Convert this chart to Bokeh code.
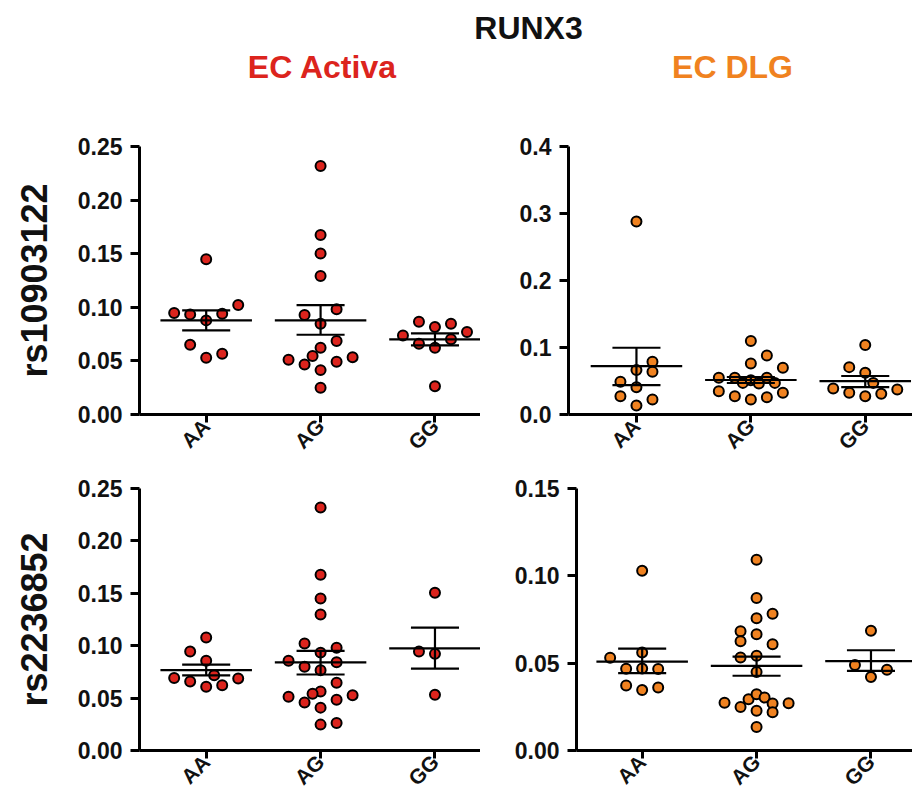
import math
from bokeh.plotting import figure
from bokeh.layouts import column, row
from bokeh.models import FixedTicker, Label, Range1d, NumeralTickFormatter, ColumnDataSource
from bokeh.embed import file_html
from bokeh.resources import INLINE

# ---------------- data ----------------
genotypes = ["AA", "AG", "GG"]
main_title = "RUNX3"
col_titles = ["EC Activa", "EC DLG"]
row_titles = ["rs10903122", "rs2236852"]

# Panel A: EC Activa, rs10903122
actA_AA = [0.1448, 0.0946, 0.0934, 0.0940, 0.1021, 0.0878, 0.0651, 0.0529, 0.0567]
actA_AA_col = [0, -2, -1, 1, 2, 0, -1, 0, 1]
actA_AG = [0.2319, 0.1675, 0.1501, 0.1292, 0.0981, 0.0928, 0.0847, 0.0685, 0.0623,
           0.0511, 0.0545, 0.0467, 0.0492, 0.0535, 0.0414, 0.0249]
actA_AG_col = [0, 0, 0, 0, 1, -1, 0, 1, 0, -2, -0.5, -1, 1, 2, 0, 0]
actA_GG = [0.0738, 0.0865, 0.0660, 0.0816, 0.0622, 0.0846, 0.0701, 0.0769, 0.0264]
actA_GG_col = [-2, -1, -1, 0, 0, 1, 1, 2, 0]
actA_mean = [0.0878, 0.0878, 0.0700]
actA_hi = [0.0971, 0.1021, 0.0757]
actA_lo = [0.0785, 0.0744, 0.0645]

# Panel B: EC DLG, rs10903122
dlgA_AA = [0.2879, 0.0787, 0.0663, 0.0638, 0.0488, 0.0408, 0.0274, 0.0224, 0.0134]
dlgA_AA_col = [0, 1, 0, 1, -1, 0, -1, 1, 0]
dlgA_AG = [0.1096, 0.0882, 0.0762, 0.0697, 0.0547, 0.0547, 0.0472, 0.0510, 0.0463,
           0.0547, 0.0472, 0.0348, 0.0274, 0.0224, 0.0259, 0.0323]
dlgA_AG_col = [0, 1, 0, 2, -2, -1, -0.5, 0, 0.5, 1, 1.5, -2, -1, 0, 1, 2]
dlgA_GG = [0.1036, 0.0707, 0.0622, 0.0472, 0.0389, 0.0323, 0.0274, 0.0308, 0.0374]
dlgA_GG_col = [0, -1, 0, 0.5, -2, -1, 0, 1, 2]
dlgA_mean = [0.0722, 0.0515, 0.0498]
dlgA_hi = [0.0996, 0.0560, 0.0575]
dlgA_lo = [0.0438, 0.0470, 0.0410]

# Panel C: EC Activa, rs2236852
actB_AA = [0.1078, 0.0944, 0.0856, 0.0691, 0.0659, 0.0719, 0.0609, 0.0622, 0.0688]
actB_AA_col = [0, -1, 0, -2, -1, 0.5, 0, 1, 2]
actB_AG = [0.2319, 0.1678, 0.1450, 0.1297, 0.1022, 0.0981, 0.0934, 0.0856, 0.0841,
           0.0800, 0.0766, 0.0647, 0.0563, 0.0541, 0.0513, 0.0528, 0.0459, 0.0484,
           0.0409, 0.0247, 0.0263]
actB_AG_col = [0, 0, 0, 0, -1, 1, 0, -2, 1, -1, 0, 1, 0, -0.5, -2, 2, -1, 1, 0, 0, 1]
actB_GG = [0.1506, 0.0944, 0.0922, 0.0531]
actB_GG_col = [0, -1, 0, 0]
actB_mean = [0.0766, 0.0841, 0.0975]
actB_hi = [0.0819, 0.0950, 0.1172]
actB_lo = [0.0716, 0.0725, 0.0781]

# Panel D: EC DLG, rs2236852
dlgB_AA = [0.1029, 0.0531, 0.0561, 0.0468, 0.0469, 0.0466, 0.0372, 0.0346, 0.0361]
dlgB_AA_col = [0, -2, 0, -1, 0, 1, -1, 0, 1]
dlgB_AG = [0.1092, 0.0873, 0.0757, 0.0783, 0.0683, 0.0666, 0.0625, 0.0608, 0.0533,
           0.0542, 0.0449, 0.0273, 0.0249, 0.0294, 0.0322, 0.0303, 0.0269, 0.0271,
           0.0228, 0.0219, 0.0135]
dlgB_AG_col = [0, 0, 0, 1, -1, 0, -1, 1, -1, 0, 0, -2, -1, -0.5, 0, 0.5, 1, 2, 0, 1, 0]
dlgB_GG = [0.0686, 0.0490, 0.0462, 0.0421]
dlgB_GG_col = [0, -1, 1, 0]
dlgB_mean = [0.0509, 0.0484, 0.0512]
dlgB_hi = [0.0583, 0.0537, 0.0574]
dlgB_lo = [0.0443, 0.0428, 0.0456]

yticks_A = [0.0, 0.05, 0.10, 0.15, 0.20, 0.25]
yticks_B = [0.0, 0.1, 0.2, 0.3, 0.4]
yticks_D = [0.0, 0.05, 0.10, 0.15]

# ---------------- style ----------------
FONT = "Liberation Sans"
RED = "#dc241d"
ORANGE = "#f08220"
TXT = "#111111"
STEP = 0.14        # swarm column spacing (category units)
MEAN_HALF = 0.40
CAP_HALF = 0.21


def panel(groups, cols, mean, hi, lo, color, yticks, fmt, width, height,
          border_left, border_top, border_bottom, xr, ylabel=None):
    ymax = yticks[-1]
    p = figure(width=width, height=height, x_range=Range1d(*xr),
               y_range=Range1d(0, ymax), toolbar_location=None,
               output_backend="svg", min_border_left=border_left,
               min_border_right=0, min_border_top=border_top,
               min_border_bottom=border_bottom)
    p.outline_line_color = None
    p.xgrid.visible = False
    p.ygrid.visible = False
    p.background_fill_color = "white"
    p.border_fill_color = "white"

    xs, ys = [], []
    for i, (vals, cc) in enumerate(zip(groups, cols)):
        for v, c in zip(vals, cc):
            xs.append(i + c * STEP)
            ys.append(v)
    p.scatter(x=xs, y=ys, size=10, fill_color=color, line_color="black",
              line_width=2)

    cats = list(range(len(genotypes)))
    src = ColumnDataSource(dict(
        c=cats,
        m0=[c - MEAN_HALF for c in cats], m1=[c + MEAN_HALF for c in cats],
        c0=[c - CAP_HALF for c in cats], c1=[c + CAP_HALF for c in cats],
        mean=mean, hi=hi, lo=lo))
    for kw in [dict(x0="m0", x1="m1", y0="mean", y1="mean"),
               dict(x0="c0", x1="c1", y0="hi", y1="hi"),
               dict(x0="c0", x1="c1", y0="lo", y1="lo"),
               dict(x0="c", x1="c", y0="lo", y1="hi")]:
        p.segment(source=src, line_color="black", line_width=2.2, **kw)

    # y axis
    ya = p.yaxis[0]
    ya.ticker = FixedTicker(ticks=yticks)
    ya.formatter = NumeralTickFormatter(format=fmt)
    ya.axis_line_width = 3
    ya.axis_line_color = "black"
    ya.major_tick_line_width = 3
    ya.major_tick_out = 9
    ya.major_tick_in = 0
    ya.minor_tick_out = 0
    ya.minor_tick_in = 0
    ya.major_label_text_font = FONT
    ya.major_label_text_font_style = "bold"
    ya.major_label_text_font_size = "23px"
    ya.major_label_text_color = TXT
    ya.major_label_standoff = 8
    if ylabel:
        ya.axis_label = ylabel
        ya.axis_label_text_font = FONT
        ya.axis_label_text_font_style = "bold"
        ya.axis_label_text_font_size = "36px"
        ya.axis_label_text_color = TXT
        ya.axis_label_standoff = 20

    # x axis
    xa = p.xaxis[0]
    xa.ticker = FixedTicker(ticks=cats)
    xa.major_label_overrides = {i: g for i, g in enumerate(genotypes)}
    xa.major_label_orientation = math.pi / 4
    xa.axis_line_width = 3
    xa.axis_line_color = "black"
    xa.major_tick_line_width = 3
    xa.major_tick_out = 8
    xa.major_tick_in = 0
    xa.minor_tick_out = 0
    xa.minor_tick_in = 0
    xa.major_label_text_font = FONT
    xa.major_label_text_font_style = "bold"
    xa.major_label_text_font_size = "21px"
    xa.major_label_text_color = TXT
    xa.major_label_standoff = 0
    return p


# layout (page pixels)
LEFT_W, RIGHT_W = 480, 432
HEAD_H, ROW1_H, ROW2_H = 130, 335, 337

pA = panel([actA_AA, actA_AG, actA_GG], [actA_AA_col, actA_AG_col, actA_GG_col],
           actA_mean, actA_hi, actA_lo, RED, yticks_A, "0.00",
           LEFT_W, ROW1_H, 139, 16, 51, (-0.583, 2.398), ylabel=row_titles[0])
pB = panel([dlgA_AA, dlgA_AG, dlgA_GG], [dlgA_AA_col, dlgA_AG_col, dlgA_GG_col],
           dlgA_mean, dlgA_hi, dlgA_lo, ORANGE, yticks_B, "0.0",
           RIGHT_W, ROW1_H, 88, 16, 51, (-0.594, 2.413))
pC = panel([actB_AA, actB_AG, actB_GG], [actB_AA_col, actB_AG_col, actB_GG_col],
           actB_mean, actB_hi, actB_lo, RED, yticks_A, "0.00",
           LEFT_W, ROW2_H, 139, 23, 51, (-0.583, 2.398), ylabel=row_titles[1])
pD = panel([dlgB_AA, dlgB_AG, dlgB_GG], [dlgB_AA_col, dlgB_AG_col, dlgB_GG_col],
           dlgB_mean, dlgB_hi, dlgB_lo, ORANGE, yticks_D, "0.00",
           RIGHT_W, ROW2_H, 96, 21, 52, (-0.574, 2.363))

# header with titles
HEAD_W = LEFT_W + RIGHT_W
head = figure(width=HEAD_W, height=HEAD_H, x_range=Range1d(0, HEAD_W),
              y_range=Range1d(0, HEAD_H), toolbar_location=None,
              output_backend="svg", min_border=0)
head.axis.visible = False
head.xgrid.visible = False
head.ygrid.visible = False
head.outline_line_color = None
for txt, x, y, colr in [(main_title, 528, 103, TXT),
                        (col_titles[0], 322, 64, RED),
                        (col_titles[1], 732, 64, ORANGE)]:
    head.add_layout(Label(x=x, y=y, x_units="screen", y_units="screen",
                          text=txt, text_font=FONT, text_font_style="bold",
                          text_font_size="32px", text_color=colr,
                          text_align="center", text_baseline="middle"))

layout = column(head, row(pA, pB), row(pC, pD))

open("out.html", "w").write(file_html(layout, INLINE))
